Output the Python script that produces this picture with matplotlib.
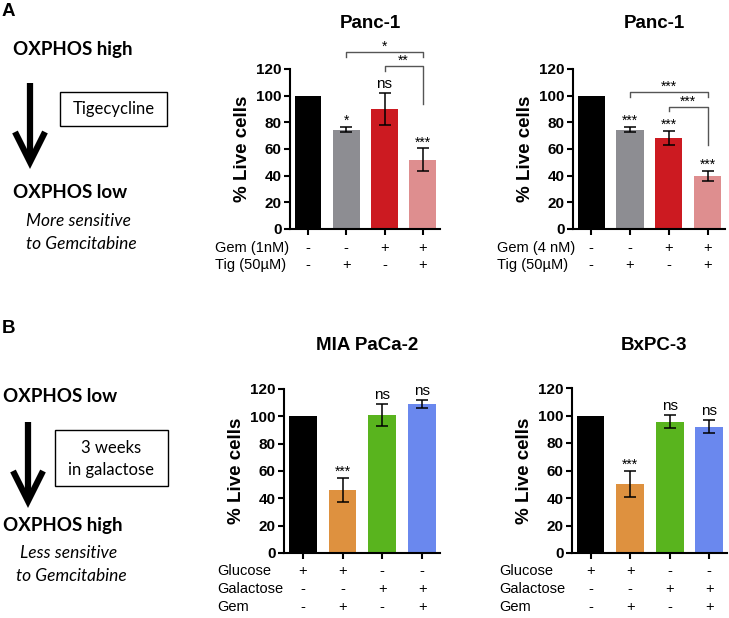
import matplotlib
matplotlib.use("Agg")
import matplotlib.pyplot as plt
from matplotlib.lines import Line2D
from matplotlib.patches import Rectangle
from matplotlib.transforms import blended_transform_factory

# ---- data ----
a_colors = ["#000000", "#8d8d92", "#cc1a21", "#de8e8f"]
b_colors = ["#000000", "#de913f", "#59b41e", "#6a88ee"]

a1_means = [100, 74.5, 90, 52]
a1_err = [0, 2, 12, 8.5]
a1_sig = ["", "*", "ns", "***"]
a1_rows = ["Gem (1nM)", "Tig (50µM)"]

a2_means = [100, 74.5, 68, 39.5]
a2_err = [0, 2, 5.3, 3.8]
a2_sig = ["", "***", "***", "***"]
a2_rows = ["Gem (4 nM)", "Tig (50µM)"]

a_signs = [["-", "-", "+", "+"], ["-", "+", "-", "+"]]

b1_means = [100, 46, 101, 109]
b1_err = [0, 8.7, 8.3, 3]
b1_sig = ["", "***", "ns", "ns"]

b2_means = [100, 50, 95.5, 92]
b2_err = [0, 9.3, 4.6, 5]
b2_sig = ["", "***", "ns", "ns"]

b_rows = ["Glucose", "Galactose", "Gem"]
b_signs = [["+", "+", "-", "-"], ["-", "-", "+", "+"], ["-", "+", "-", "+"]]

# brackets: (left bar, right bar, line y, left end y, right end y, label)
a1_brackets = [(1, 3, 133, 129, 129, "*"), (2, 3, 122, 118.5, 94, "**")]
a2_brackets = [(1, 3, 103, 99, 99, "***"), (2, 3, 91.7, 88.5, 63, "***")]

W, H = 729, 618
fig = plt.figure(figsize=(W / 100, H / 100), dpi=100)
plt.rcParams["font.family"] = ["Liberation Sans", "DejaVu Sans"]


def fx(px):
    return px / W


def fy(py):
    return 1 - py / H


def panel(left, right, top, bottom, means, err, sig, colors, title, title_y,
          rows, signs, row_x, row_y, brackets=()):
    ax = fig.add_axes([fx(left), fy(bottom), fx(right - left), (bottom - top) / H])
    x = list(range(len(means)))
    ax.bar(x, means, width=0.7, color=colors, zorder=2)
    ax.errorbar(x[1:], means[1:], yerr=err[1:], fmt="none", ecolor="black",
                elinewidth=1.1, capsize=4.5, capthick=1.1, zorder=3)
    ax.set_ylim(0, 120)
    ax.set_xlim(-0.47, 3.45)
    ax.set_yticks(range(0, 121, 20))
    ax.set_xticks(x)
    ax.set_xticklabels([])
    for s in ["top", "right"]:
        ax.spines[s].set_visible(False)
    for s in ["left", "bottom"]:
        ax.spines[s].set_linewidth(1.5)
    ax.tick_params(axis="both", direction="out", length=4, width=1.5, pad=2)
    for lab in ax.get_yticklabels():
        lab.set_fontweight("bold")
        lab.set_fontsize(11)
    ax.set_ylabel("% Live cells", fontsize=13.5, fontweight="bold", labelpad=4)

    for xi, m, e, s in zip(x, means, err, sig):
        if not s:
            continue
        if s == "ns":
            ax.text(xi, m + e + 6.5, s, ha="center", va="center", fontsize=11)
        else:
            ax.text(xi, m + e + 4.5, s, ha="center", va="center", fontsize=10)

    for x1, x2, yl, y1, y2, lab in brackets:
        ax.plot([x1, x1, x2, x2], [y1, yl, yl, y2], color="#555555", lw=1.0,
                clip_on=False)
        ax.text((x1 + x2) / 2, yl + 4, lab, ha="center", va="center",
                fontsize=10, clip_on=False)

    cx = (left + right) / 2
    fig.text(fx(cx + 5), fy(title_y), title, ha="center", va="center",
             fontsize=13.5, fontweight="bold")

    tr = blended_transform_factory(ax.transData, fig.transFigure)
    for r, (name, row) in enumerate(zip(rows, signs)):
        yy = fy(row_y[r])
        fig.text(fx(row_x), yy, name, ha="left", va="center", fontsize=10.5)
        for xi, sgn in zip(x, row):
            ax.text(xi, yy, sgn, ha="center", va="center", fontsize=10.5,
                    transform=tr, clip_on=False)
    return ax


panel(290, 440, 69, 229, a1_means, a1_err, a1_sig, a_colors, "Panc-1", 24,
      a1_rows, a_signs, 215, [248, 265], a1_brackets)
panel(573, 725, 69, 229, a2_means, a2_err, a2_sig, a_colors, "Panc-1", 24,
      a2_rows, a_signs, 497, [248, 265], a2_brackets)
panel(284, 440, 389, 553, b1_means, b1_err, b1_sig, b_colors, "MIA PaCa-2", 346,
      b_rows, b_signs, 217, [571, 589, 607])
panel(572, 727, 388, 553, b2_means, b2_err, b2_sig, b_colors, "BxPC-3", 346,
      b_rows, b_signs, 499, [571, 589, 607])

# ---- left-hand schematic ----
side = ["Lato", "DejaVu Sans"]
fig.text(fx(2), fy(12), "A", fontsize=13.5, fontweight="bold", va="center")
fig.text(fx(2), fy(329), "B", fontsize=13.5, fontweight="bold", va="center")


def arrow(xc, y0, y1, arm):
    kw = dict(color="black", lw=4.5, solid_capstyle="butt",
              transform=fig.transFigure)
    fig.add_artist(Line2D([fx(xc), fx(xc)], [fy(y0), fy(y1 - 3)], **kw))
    fig.add_artist(Line2D([fx(xc - arm), fx(xc), fx(xc + arm)],
                          [fy(y1 - 2 * arm), fy(y1), fy(y1 - 2 * arm)],
                          solid_joinstyle="miter", **kw))


def box(x0, y0, x1, y1, lines, ys):
    fig.add_artist(Rectangle((fx(x0), fy(y1)), fx(x1 - x0), (y1 - y0) / H,
                             fill=False, lw=1.0, ec="black",
                             transform=fig.transFigure))
    for t, yy in zip(lines, ys):
        fig.text(fx((x0 + x1) / 2), fy(yy), t, ha="center", va="center",
                 fontsize=12, family=side)


fig.text(fx(13), fy(50), "OXPHOS high", fontsize=13.5, fontweight="bold",
         family=side, va="center")
arrow(30, 83, 162, 15)
box(60, 92, 167, 126, ["Tigecycline"], [109])
fig.text(fx(13), fy(193), "OXPHOS low", fontsize=13.5, fontweight="bold",
         family=side, va="center")
fig.text(fx(78), fy(221), "More sensitive", fontsize=12.5, style="italic",
         family=side, ha="center", va="center")
fig.text(fx(81), fy(244), "to Gemcitabine", fontsize=12.5, style="italic",
         family=side, ha="center", va="center")

fig.text(fx(3), fy(397), "OXPHOS low", fontsize=13.5, fontweight="bold",
         family=side, va="center")
arrow(28, 422, 501, 15)
box(55, 430, 168, 486, ["3 weeks", "in galactose"], [448, 470])
fig.text(fx(3), fy(525), "OXPHOS high", fontsize=13.5, fontweight="bold",
         family=side, va="center")
fig.text(fx(69), fy(553), "Less sensitive", fontsize=12.5, style="italic",
         family=side, ha="center", va="center")
fig.text(fx(71), fy(576), "to Gemcitabine", fontsize=12.5, style="italic",
         family=side, ha="center", va="center")

fig.savefig("out.png", dpi=100)
